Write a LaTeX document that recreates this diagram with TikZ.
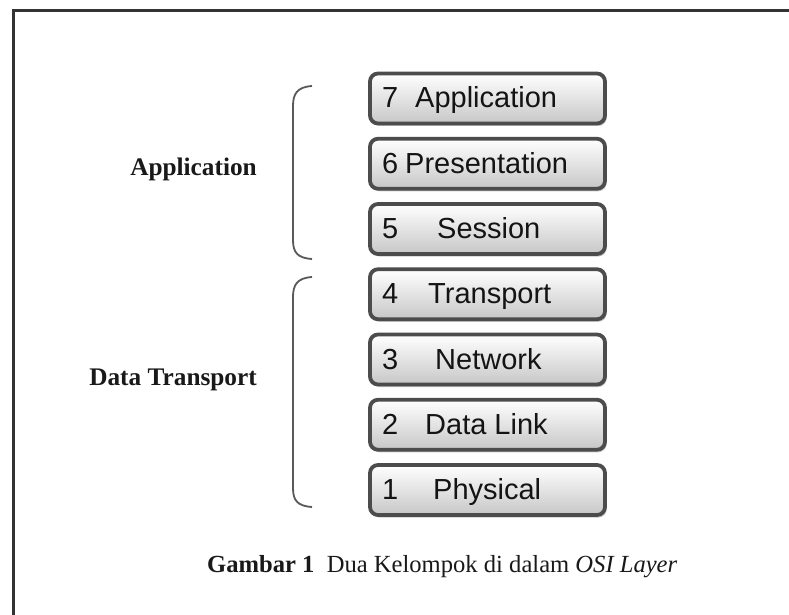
\documentclass[tikz,border=0pt]{standalone}
\usepackage{fontspec}
\setmainfont{Liberation Serif}
\newfontfamily\boxfont{Liberation Sans}
\usetikzlibrary{shadows}
\tikzset{
  layerbox/.style={rectangle, rounded corners=8pt, draw=black!70, line width=3.8pt,
    top color=white, bottom color=black!22, minimum width=235pt, minimum height=50pt,
    inner sep=0pt,
    drop shadow={shadow xshift=1.5pt, shadow yshift=-2.5pt, opacity=0.35, fill=black!60}},
  layertext/.style={anchor=base west, inner sep=0pt, font=\boxfont\fontsize{29}{31}\selectfont, text=black!92},
  grouplabel/.style={anchor=base east, inner sep=0pt, font=\bfseries\fontsize{25.3}{27}\selectfont, text=black!90},
  bracket/.style={draw=black!65, line width=1.8pt},
  frameline/.style={draw=black!80, line width=3pt},
}
\begin{document}
\begin{tikzpicture}[x=1pt,y=-1pt]
\useasboundingbox (0,0) rectangle (789,615);
\fill[white] (0,0) rectangle (789,615);
% frame
\coordinate (ftr) at (789,11);
\coordinate (ftl) at (13,11);
\coordinate (fbl) at (13,615);
\draw[frameline] (ftr) -- (ftl) -- (fbl);
% boxes
\foreach \n/\k/\name/\nx in {7/0/Application/415, 6/1/Presentation/405, 5/2/Session/437, 4/3/Transport/428, 3/4/Network/435, 2/5/Data Link/425, 1/6/Physical/433}{
  \node[layerbox] (b\n) at (487.5, 98.5+65.25*\k) {};
  \node[layertext] (num\n) at (382, 108+65.25*\k) {\n};
  \node[layertext] (nm\n) at (\nx, 108+65.25*\k) {\name};
}
% brackets
\coordinate (a1) at (312,86);
\coordinate (a2) at (312,259);
\coordinate (d1) at (312,277);
\coordinate (d2) at (312,507);
\draw[bracket] (a1) .. controls (297,87) and (293,94) .. (293,106) -- (293,240) .. controls (293,252) and (297,258) .. (a2);
\draw[bracket] (d1) .. controls (297,278) and (293,285) .. (293,297) -- (293,488) .. controls (293,500) and (297,506) .. (d2);
% group labels
\node[grouplabel] (lapp) at (257,175) {Application};
\node[grouplabel] (ldt) at (257,385) {Data Transport};
% caption
\node[anchor=base west, inner sep=0pt, font=\fontsize{24.6}{26}\selectfont, text=black!90] (cap) at (207,572)
  {\textbf{Gambar 1}\ \ Dua Kelompok di dalam \textit{OSI Layer}};
\end{tikzpicture}
\end{document}
